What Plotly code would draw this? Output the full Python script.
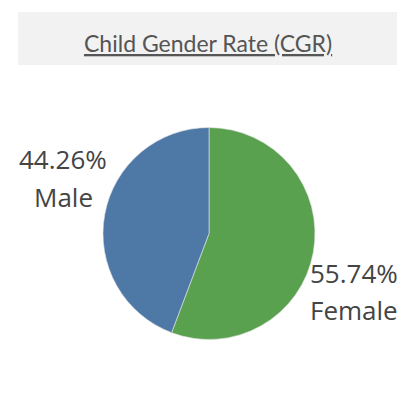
import plotly.graph_objects as go

labels = ["Female", "Male"]
values = [55.74, 44.26]
colors = ["#59a14f", "#4e79a7"]
title_text = "Child Gender Rate (CGR)"

W = H = 397  # page body adds an 8px margin


def px(x):
    return (x - 8) / W


def py(y):
    return 1 - (y - 8) / H


# label anchor centres in pixels: (x, y_percent_line, y_name_line)
label_pos = {"Female": (354, 273, 310), "Male": (63, 159, 197)}

fig = go.Figure(go.Pie(
    labels=labels, values=values, sort=False, direction="clockwise", rotation=0,
    marker=dict(colors=colors, line=dict(color="#e6e6e6", width=0.6)),
    textinfo="none", hoverinfo="label+percent", showlegend=False,
    domain=dict(x=[px(103), px(315)], y=[py(340), py(127)]),
))

annotations = [dict(
    x=px(208), y=py(43), xref="paper", yref="paper", showarrow=False,
    xanchor="center", yanchor="middle",
    text="<u>" + title_text + "</u>",
    font=dict(family="Lato, Open Sans, sans-serif", size=23, color="#555555"),
)]
for lab, val in zip(labels, values):
    x, y1, y2 = label_pos[lab]
    for txt, yy in ((f"{val:.2f}%", y1), (lab, y2)):
        annotations.append(dict(
            x=px(x), y=py(yy), xref="paper", yref="paper", showarrow=False,
            xanchor="center", yanchor="middle", text=txt,
            font=dict(family="Open Sans, sans-serif", size=26, color="#444444"),
        ))

fig.update_layout(
    width=W, height=H, margin=dict(l=0, r=0, t=0, b=0),
    paper_bgcolor="white", plot_bgcolor="white",
    annotations=annotations,
    shapes=[
        dict(type="rect", xref="paper", yref="paper", x0=px(18), x1=px(400), y0=py(65), y1=py(12),
             fillcolor="#f2f2f2", line=dict(width=0), layer="below"),
    ],
)
fig.write_html("out.html")
